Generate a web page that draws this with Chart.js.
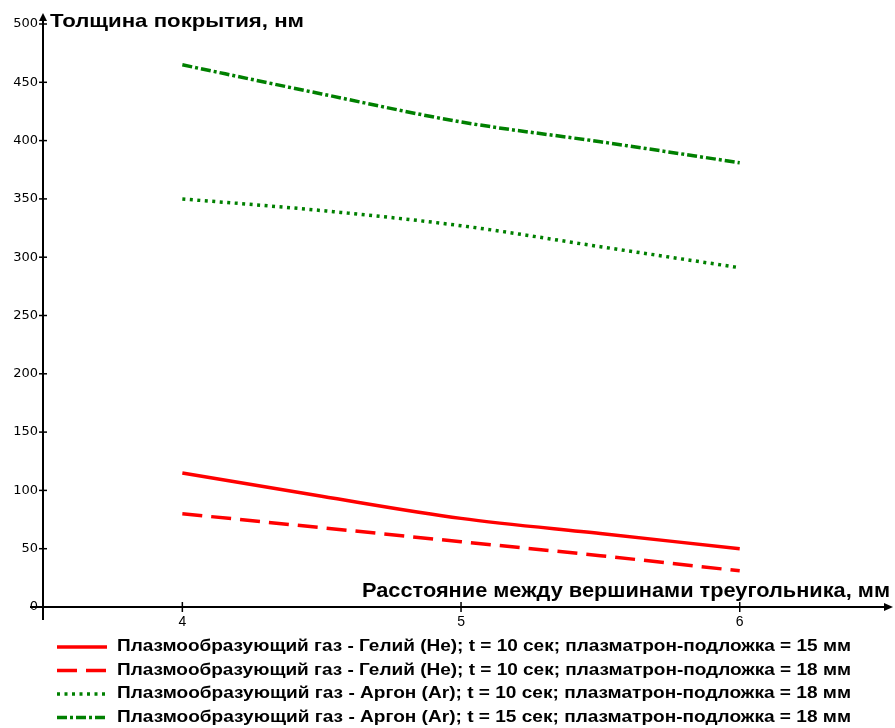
<!DOCTYPE html>
<html>
<head>
<meta charset="utf-8">
<script src="https://cdn.jsdelivr.net/npm/chart.js@4.4.1/dist/chart.umd.min.js"></script>
<style>
html,body{margin:0;padding:0;background:#fff;}
#wrap{width:895px;height:728px;position:relative;}
</style>
</head>
<body>
<div id="wrap"><canvas id="c" width="895" height="728"></canvas></div>
<script>
const xValues = [4, 4.5, 5, 5.5, 6];
const heliumT10D15 = [115, 95, 76, 63, 50];
const heliumT10D18 = [80, 68, 56, 44, 31];
const argonT10D18 = [350, 340, 327, 309, 291];
const argonT15D18 = [465, 440, 416, 399, 381];
const xTicks = [4, 5, 6];
const yTicks = [0, 50, 100, 150, 200, 250, 300, 350, 400, 450, 500];
const seriesLabels = [
  'Плазмообразующий газ - Гелий (He); t = 10 сек; плазматрон-подложка = 15 мм',
  'Плазмообразующий газ - Гелий (He); t = 10 сек; плазматрон-подложка = 18 мм',
  'Плазмообразующий газ - Аргон (Ar); t = 10 сек; плазматрон-подложка = 18 мм',
  'Плазмообразующий газ - Аргон (Ar); t = 15 сек; плазматрон-подложка = 18 мм'
];
const yTitle = 'Толщина покрытия, нм';
const xTitle = 'Расстояние между вершинами треугольника, мм';

const pts = arr => arr.map((v, i) => ({x: xValues[i], y: v}));

const RED = '#ff0000', GREEN = '#008000';
const dashes = [[], [20, 9], [3, 4.5], [10, 3, 3, 3]];
const colors = [RED, RED, GREEN, GREEN];
const seriesData = [heliumT10D15, heliumT10D18, argonT10D18, argonT15D18];

const datasets = seriesData.map((d, i) => ({
  label: seriesLabels[i],
  data: pts(d),
  borderColor: colors[i],
  backgroundColor: colors[i],
  borderWidth: 3.5,
  borderDash: dashes[i],
  borderCapStyle: 'butt',
  pointRadius: 0,
  tension: 0.35,
  cubicInterpolationMode: 'monotone',
  fill: false
}));

function fitText(ctx, text, x, y, targetW, font, align) {
  ctx.save();
  ctx.font = font;
  const w = ctx.measureText(text).width;
  const s = targetW / w;
  ctx.translate(x, y);
  ctx.scale(s, 1);
  ctx.textAlign = 'left';
  ctx.textBaseline = 'middle';
  ctx.fillStyle = '#000';
  ctx.fillText(text, align === 'right' ? -w : 0, 0);
  ctx.restore();
}

const axesPlugin = {
  id: 'axesPlugin',
  afterDraw(chart) {
    const ctx = chart.ctx;
    const xs = chart.scales.x, ys = chart.scales.y;
    const x0 = xs.getPixelForValue(3.5);
    const y0 = ys.getPixelForValue(0);
    const top = ys.getPixelForValue(500);
    const right = xs.right;
    ctx.save();
    ctx.strokeStyle = '#000';
    ctx.fillStyle = '#000';
    ctx.lineWidth = 2;
    // y axis
    ctx.beginPath();
    ctx.moveTo(x0, y0 + 13);
    ctx.lineTo(x0, top - 8);
    ctx.stroke();
    ctx.beginPath();
    ctx.moveTo(x0, top - 11);
    ctx.lineTo(x0 - 4, top - 3);
    ctx.lineTo(x0 + 4, top - 3);
    ctx.closePath();
    ctx.fill();
    // x axis
    ctx.beginPath();
    ctx.moveTo(x0 - 13, y0);
    ctx.lineTo(right - 6, y0);
    ctx.stroke();
    ctx.beginPath();
    ctx.moveTo(right, y0);
    ctx.lineTo(right - 9, y0 - 4);
    ctx.lineTo(right - 9, y0 + 4);
    ctx.closePath();
    ctx.fill();
    // ticks
    ctx.lineWidth = 1.5;
    yTicks.forEach(v => {
      if (v === 0) return;
      const py = ys.getPixelForValue(v);
      ctx.beginPath();
      ctx.moveTo(x0 - 4, py);
      ctx.lineTo(x0 + 4, py);
      ctx.stroke();
    });
    xTicks.forEach(v => {
      const px = xs.getPixelForValue(v);
      ctx.beginPath();
      ctx.moveTo(px, y0 - 5);
      ctx.lineTo(px, y0 + 5);
      ctx.stroke();
    });
    ctx.restore();

    // titles
    fitText(ctx, yTitle, 50, 22, 254, 'bold 19px "Liberation Sans", Arial, sans-serif', 'left');
    fitText(ctx, xTitle, 890, 591, 528, 'bold 21px "Liberation Sans", sans-serif', 'right');

    // legend
    const rowY = [647, 670.5, 694, 717.5];
    chart.data.datasets.forEach((ds, i) => {
      const y = rowY[i];
      ctx.save();
      ctx.strokeStyle = ds.borderColor;
      ctx.lineWidth = 3.5;
      ctx.lineCap = 'butt';
      ctx.setLineDash(ds.borderDash);
      ctx.beginPath();
      ctx.moveTo(57, y);
      ctx.lineTo(107, y);
      ctx.stroke();
      ctx.restore();
      fitText(ctx, ds.label, 117, y, 734, 'bold 16px "Liberation Sans", sans-serif', 'left');
    });
  }
};

new Chart(document.getElementById('c'), {
  type: 'line',
  data: {datasets},
  options: {
    responsive: false,
    animation: false,
    devicePixelRatio: 1,
    layout: {padding: {left: 0, top: 24, right: 2, bottom: 0}},
    plugins: {legend: {display: false}, tooltip: {enabled: false}, title: {display: false}},
    scales: {
      x: {
        type: 'linear',
        min: 3.5,
        max: 6.55,
        afterBuildTicks: s => { s.ticks = xTicks.map(v => ({value: v})); },
        afterFit: s => { s.height = 121; },
        grid: {display: false, drawTicks: false},
        border: {display: false},
        ticks: {
          padding: 7,
          color: '#000',
          font: {family: '"Liberation Sans", sans-serif', size: 14},
          callback: v => String(v)
        }
      },
      y: {
        type: 'linear',
        min: 0,
        max: 500,
        afterBuildTicks: s => { s.ticks = yTicks.map(v => ({value: v})); },
        afterFit: s => { s.width = 43; },
        grid: {display: false, drawTicks: false},
        border: {display: false},
        ticks: {
          padding: 5,
          color: '#000',
          font: {family: '"DejaVu Sans", Verdana, sans-serif', size: 13},
          callback: v => String(v)
        }
      }
    }
  },
  plugins: [axesPlugin]
});
</script>
</body>
</html>
